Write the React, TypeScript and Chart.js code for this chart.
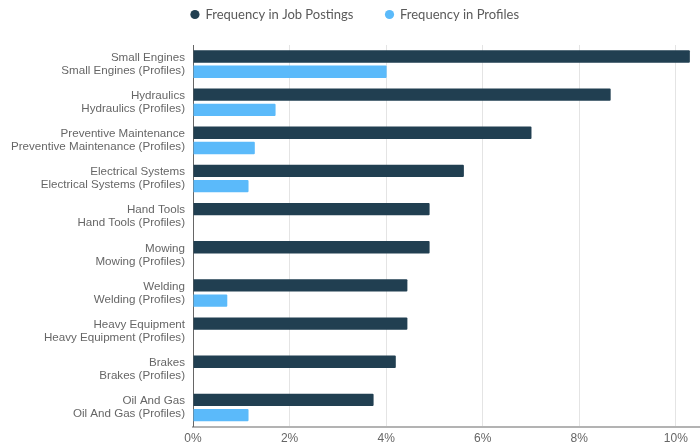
import React, { useEffect, useRef } from "react";
import { Chart, registerables } from "chart.js";

Chart.register(...registerables);

const categories: string[] = [
  "Small Engines",
  "Hydraulics",
  "Preventive Maintenance",
  "Electrical Systems",
  "Hand Tools",
  "Mowing",
  "Welding",
  "Heavy Equipment",
  "Brakes",
  "Oil And Gas",
];

const profileSuffix = " (Profiles)";

const jobPostings: number[] = [10.29, 8.65, 7.01, 5.61, 4.9, 4.9, 4.44, 4.44, 4.2, 3.74];
const profiles: number[] = [4.01, 1.71, 1.28, 1.15, 0, 0, 0.71, 0, 0, 1.15];

const seriesNames: string[] = ["Frequency in Job Postings", "Frequency in Profiles"];
const xTicks: number[] = [0, 2, 4, 6, 8, 10];

const DARK = "#213f51";
const LIGHT = "#5bbafa";

export default function App() {
  const ref = useRef<HTMLCanvasElement | null>(null);

  useEffect(() => {
    if (!ref.current) return;
    const legendSpacer = {
      id: "legendSpacer",
      beforeInit(chart: any) {
        const lg = chart.legend;
        if (lg && !lg.__patched) {
          const fit = lg.fit;
          lg.fit = function () {
            fit.call(this);
            this.height += 14;
          };
          lg.__patched = true;
        }
      },
    };
    const chart = new Chart(ref.current, {
      type: "bar",
      data: {
        labels: categories.map((c) => [c, c + profileSuffix]),
        datasets: [
          {
            label: seriesNames[0],
            data: jobPostings,
            backgroundColor: DARK,
            borderWidth: 0,
            borderRadius: 1,
            categoryPercentage: 0.8,
            barPercentage: 0.81,
          },
          {
            label: seriesNames[1],
            data: profiles,
            backgroundColor: LIGHT,
            borderWidth: 0,
            borderRadius: 1,
            categoryPercentage: 0.8,
            barPercentage: 0.81,
          },
        ],
      },
      options: {
        indexAxis: "y",
        animation: false,
        responsive: false,
        layout: { padding: { left: 10, right: 0, top: 0, bottom: 0 } },
        plugins: {
          legend: {
            position: "top",
            align: "center",
            labels: {
              usePointStyle: true,
              pointStyle: "circle",
              boxWidth: 8,
              boxHeight: 6.5,
              padding: 32,
              color: "#5a5a5a",
              font: { family: "Lato", size: 13 },
            },
          },
          tooltip: { enabled: false },
        },
        scales: {
          x: {
            min: 0,
            max: 10.5,
            afterBuildTicks: (scale: any) => {
              scale.ticks = xTicks.map((v) => ({ value: v }));
            },
            ticks: {
              callback: (v: any) => v + "%",
              color: "#666",
              padding: 5,
              font: { family: "Liberation Sans", size: 12 },
            },
            grid: { color: "#e4e4e4", drawTicks: false },
            border: { display: true, color: "#b3b3b3", width: 2 },
          },
          y: {
            afterFit: (scale: any) => {
              scale.width = 183;
            },
            ticks: {
              color: "#666",
              padding: 8,
              font: { family: "Liberation Sans", size: 11.6, lineHeight: 1.12 },
            },
            grid: { display: false, drawTicks: false },
            border: { display: true, color: "#666", width: 1 },
          },
        },
      },
      plugins: [legendSpacer],
    } as any);
    return () => chart.destroy();
  }, []);

  return (
    <div style={{ position: "fixed", left: 0, top: -24, width: 700, height: 475 }}>
      <canvas ref={ref} width={700} height={475} style={{ display: "block" }} />
    </div>
  );
}
